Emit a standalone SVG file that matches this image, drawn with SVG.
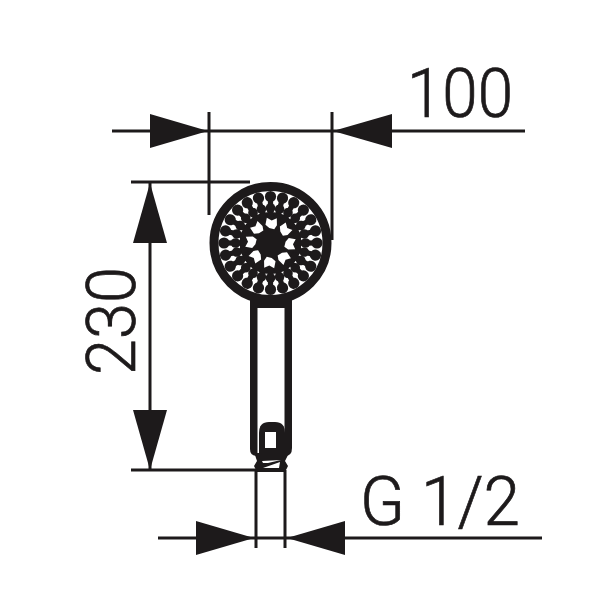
<svg xmlns="http://www.w3.org/2000/svg" width="603" height="603" viewBox="0 0 603 603">
<style>
.dim{stroke:#1d1a1b;stroke-width:3;fill:none}
.arr{fill:#1d1a1b}
.blk{fill:#1d1a1b}
.wht{fill:#fff}
.t{font-family:"Roboto","Liberation Sans",Arial,sans-serif;font-weight:300;fill:#1d1a1b;stroke:#1d1a1b;stroke-width:.7;font-size:68px}
</style>
<defs>
<g id="spoke">
<path class="blk" d="M-2.5,-46L2.5,-46L3,-24L-3,-24Z"/>
<circle class="blk" cx="0" cy="-46.5" r="5.6"/>
<circle class="blk" cx="0" cy="-35" r="4.8"/>
</g>
<path id="star" class="wht" d="M-5,-25L0,-22.500L5,-25L5.500,-18L3,-14L-2,-15L-6,-18Z"/>
</defs>
<rect width="603" height="603" fill="#fff"/>
<g id="head" transform="translate(270.5 243)">
<circle r="56.5" fill="#fff" stroke="#1d1a1b" stroke-width="9"/>
<circle class="blk" r="31"/>
<use href="#spoke" transform="rotate(0)"/>
<use href="#spoke" transform="rotate(15)"/>
<use href="#spoke" transform="rotate(30)"/>
<use href="#spoke" transform="rotate(45)"/>
<use href="#spoke" transform="rotate(60)"/>
<use href="#spoke" transform="rotate(75)"/>
<use href="#spoke" transform="rotate(90)"/>
<use href="#spoke" transform="rotate(105)"/>
<use href="#spoke" transform="rotate(120)"/>
<use href="#spoke" transform="rotate(135)"/>
<use href="#spoke" transform="rotate(150)"/>
<use href="#spoke" transform="rotate(165)"/>
<use href="#spoke" transform="rotate(180)"/>
<use href="#spoke" transform="rotate(195)"/>
<use href="#spoke" transform="rotate(210)"/>
<use href="#spoke" transform="rotate(225)"/>
<use href="#spoke" transform="rotate(240)"/>
<use href="#spoke" transform="rotate(255)"/>
<use href="#spoke" transform="rotate(270)"/>
<use href="#spoke" transform="rotate(285)"/>
<use href="#spoke" transform="rotate(300)"/>
<use href="#spoke" transform="rotate(315)"/>
<use href="#spoke" transform="rotate(330)"/>
<use href="#spoke" transform="rotate(345)"/>
<use href="#star" transform="rotate(3)"/>
<use href="#star" transform="rotate(48)"/>
<use href="#star" transform="rotate(93)"/>
<use href="#star" transform="rotate(138)"/>
<use href="#star" transform="rotate(183)"/>
<use href="#star" transform="rotate(228)"/>
<use href="#star" transform="rotate(273)"/>
<use href="#star" transform="rotate(318)"/>
</g>
<g id="handle">
<path class="blk" d="M250,298H292V448Q292,456 285,456H257Q250,456 250,449Z"/>
<path class="wht" d="M257.500,308H284.500V453H257.500Z"/>
<path class="blk" d="M259,454V433Q259,422 269,422H275Q285,422 285,433V454Z"/>
<path class="wht" d="M265,432H276V448H265Z"/>
<path class="blk" d="M255,455H288L285,461L288,466L285,472H257L254,466L257,461Z"/>
<path class="wht" d="M262,461L281,460L268,463L263,463ZM263,468L280,462L279,468Z"/>
</g>
<g id="connectors">
<path class="dim" d="M112,131H525M209,112V215M332,112V240M131,182H250M131,470H256M150,183V470M256,470V548M285,470V548M158,538H542"/>
<path class="arr" d="M208,131L150,114V148Z"/>
<path class="arr" d="M333,131L392,114V148Z"/>
<path class="arr" d="M150,183L133,243H167Z"/>
<path class="arr" d="M150,470L133,410H167Z"/>
<path class="arr" d="M254,538L196,521V555Z"/>
<path class="arr" d="M287,538L345,521V555Z"/>
</g>
<g id="labels">
<text class="t" x="407" y="117" textLength="106" lengthAdjust="spacingAndGlyphs">100</text>
<text class="t" transform="translate(135 375) rotate(-90)" textLength="108" lengthAdjust="spacingAndGlyphs">230</text>
<text class="t" x="360" y="525" textLength="160" lengthAdjust="spacingAndGlyphs">G 1/2</text>
</g>
</svg>
